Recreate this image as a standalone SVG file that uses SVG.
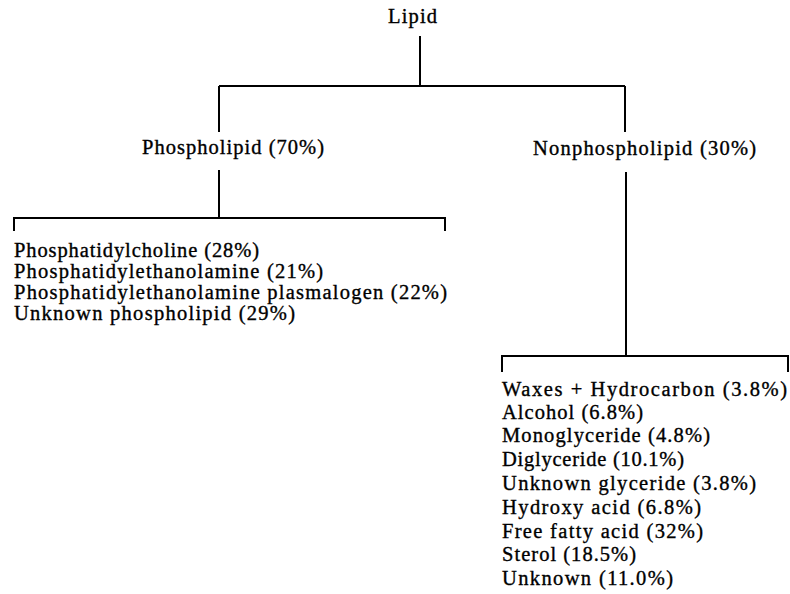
<svg xmlns="http://www.w3.org/2000/svg" width="790" height="594" viewBox="0 0 790 594">
<style>
.t{font-family:"Liberation Serif","Times New Roman",serif;font-size:20.5px;fill:#000;stroke:#000;stroke-width:0.35px}
.c{stroke:#000;stroke-width:2;fill:none}
</style>
<rect width="790" height="594" fill="#fff"/>
<g id="connectors">
<path class="c" d="M420,36 V86 M219,86 H625 M219,86 V132 M625,86 V132"/>
<path class="c" d="M219,170 V218 M14,231 V218 H445 V231"/>
<path class="c" d="M626,172 V356 M502,372 V356 H788 V372"/>
</g>
<g id="lipid"><text class="t" x="388" y="23" textLength="49" lengthAdjust="spacing">Lipid</text></g>
<g id="phospholipid"><text class="t" x="142" y="154" textLength="182" lengthAdjust="spacing">Phospholipid (70%)</text></g>
<g id="nonphospholipid"><text class="t" x="533" y="155" textLength="223" lengthAdjust="spacing">Nonphospholipid (30%)</text></g>
<g id="phospholipid-list">
<text class="t" x="14" y="257" textLength="245" lengthAdjust="spacing">Phosphatidylcholine (28%)</text>
<text class="t" x="14" y="278" textLength="309" lengthAdjust="spacing">Phosphatidylethanolamine (21%)</text>
<text class="t" x="14" y="299" textLength="433" lengthAdjust="spacing">Phosphatidylethanolamine plasmalogen (22%)</text>
<text class="t" x="14" y="320" textLength="281" lengthAdjust="spacing">Unknown phospholipid (29%)</text>
</g>
<g id="nonphospholipid-list">
<text class="t" x="502" y="396" textLength="285" lengthAdjust="spacing">Waxes + Hydrocarbon (3.8%)</text>
<text class="t" x="502" y="419" textLength="141" lengthAdjust="spacing">Alcohol (6.8%)</text>
<text class="t" x="502" y="442" textLength="208" lengthAdjust="spacing">Monoglyceride (4.8%)</text>
<text class="t" x="502" y="466" textLength="182" lengthAdjust="spacing">Diglyceride (10.1%)</text>
<text class="t" x="502" y="490" textLength="254" lengthAdjust="spacing">Unknown glyceride (3.8%)</text>
<text class="t" x="502" y="514" textLength="199" lengthAdjust="spacing">Hydroxy acid (6.8%)</text>
<text class="t" x="502" y="538" textLength="201" lengthAdjust="spacing">Free fatty acid (32%)</text>
<text class="t" x="502" y="561" textLength="134" lengthAdjust="spacing">Sterol (18.5%)</text>
<text class="t" x="502" y="585" textLength="171" lengthAdjust="spacing">Unknown (11.0%)</text>
</g>
</svg>
